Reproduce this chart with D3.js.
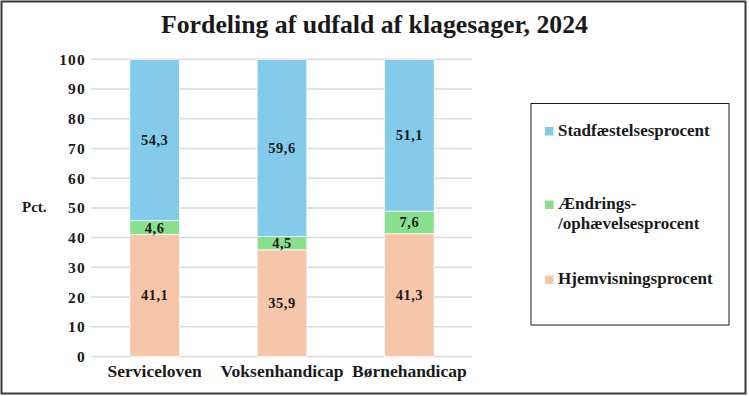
<!DOCTYPE html>
<html lang="da">
<head>
  <meta charset="utf-8" />
  <title>Fordeling af udfald af klagesager, 2024</title>
  <style>
    body {
      margin: 0;
      padding: 0;
      background: #fff;
    }
    svg text {
      font-family: "Liberation Serif", "Times New Roman", "DejaVu Serif", serif;
      font-weight: bold;
      fill: #1a1a1a;
    }
  </style>
  <script src="https://d3js.org/d3.v7.min.js"></script>
</head>
<body>
  <svg width="749" height="396"></svg>
  <script>
    // data
    const categories = ["Serviceloven", "Voksenhandicap", "Børnehandicap"];
    const seriesNames = ["Hjemvisningsprocent", "Ændrings-/ophævelsesprocent", "Stadfæstelsesprocent"];
    const hjemvisning = [41.1, 35.9, 41.3];
    const aendring = [4.6, 4.5, 7.6];
    const stadfaestelse = [54.3, 59.6, 51.1];
    const yTicks = [0, 10, 20, 30, 40, 50, 60, 70, 80, 90, 100];

    const colors = ["#f6c6ab", "#88e08c", "#84caea"];

    const svg = d3.select("svg");

    // outer frame
    svg.append("rect")
      .attr("x", 1.5).attr("y", 1.5)
      .attr("width", 744).attr("height", 392)
      .attr("fill", "#fff")
      .attr("stroke", "#3a3a3a")
      .attr("stroke-width", 2);

    // title
    svg.append("text")
      .attr("x", 374.5).attr("y", 33)
      .attr("text-anchor", "middle")
      .attr("font-size", 25)
      .attr("textLength", 427)
      .attr("lengthAdjust", "spacingAndGlyphs")
      .text("Fordeling af udfald af klagesager, 2024");

    const x = d3.scaleBand()
      .domain(categories)
      .range([91, 473])
      .paddingInner(0.61)
      .paddingOuter(0.305);

    const y = d3.scaleLinear()
      .domain([0, 100])
      .range([356.5, 59.3]);

    // gridlines
    svg.append("g")
      .selectAll("line")
      .data(yTicks)
      .join("line")
      .attr("x1", 91).attr("x2", 472)
      .attr("y1", d => y(d)).attr("y2", d => y(d))
      .attr("stroke", "#d9d9d9")
      .attr("stroke-width", 1.5);

    // y axis labels
    const yAxis = svg.append("g")
      .attr("transform", "translate(91,0)")
      .call(d3.axisLeft(y).tickValues(yTicks).tickSize(0).tickPadding(5));
    yAxis.select(".domain").remove();
    yAxis.selectAll("text")
      .attr("font-size", 15.5)
      .attr("letter-spacing", 1.2)
      .attr("font-family", null)
      .attr("fill", "#1a1a1a");

    svg.append("text")
      .attr("x", 22).attr("y", 212)
      .attr("font-size", 15)
      .text("Pct.");

    // stacked bars
    const rows = categories.map((c, i) => ({
      cat: c,
      h: hjemvisning[i],
      a: aendring[i],
      s: stadfaestelse[i]
    }));
    const stacked = d3.stack().keys(["h", "a", "s"])(rows);

    const layer = svg.append("g")
      .selectAll("g")
      .data(stacked)
      .join("g")
      .attr("fill", (d, i) => colors[i]);

    layer.selectAll("rect")
      .data(d => d)
      .join("rect")
      .attr("x", d => x(d.data.cat))
      .attr("width", x.bandwidth())
      .attr("y", d => y(d[1]))
      .attr("height", d => y(d[0]) - y(d[1]))
      .attr("stroke", "#fff")
      .attr("stroke-width", 0.75);

    // value labels
    layer.selectAll("text")
      .data(d => d)
      .join("text")
      .attr("x", d => x(d.data.cat) + x.bandwidth() / 2)
      .attr("y", d => (y(d[0]) + y(d[1])) / 2 + 5)
      .attr("text-anchor", "middle")
      .attr("font-size", 14.5)
      .attr("letter-spacing", 0.5)
      .text(d => d3.format(".1f")(d[1] - d[0]).replace(".", ","));

    // category labels
    const xAxis = svg.append("g")
      .attr("transform", "translate(0,356.5)")
      .call(d3.axisBottom(x).tickSize(0).tickPadding(8));
    xAxis.select(".domain").remove();
    xAxis.selectAll("text")
      .attr("font-size", 17.5)
      .attr("font-family", null)
      .attr("fill", "#1a1a1a");

    // legend
    const legend = svg.append("g");
    legend.append("rect")
      .attr("x", 531).attr("y", 103.5)
      .attr("width", 198).attr("height", 221.5)
      .attr("fill", "#fff")
      .attr("stroke", "#1a1a1a")
      .attr("stroke-width", 1);

    const legendItems = [
      { lines: ["Stadfæstelsesprocent"], color: colors[2], y: 135.5 },
      { lines: ["Ændrings-", "/ophævelsesprocent"], color: colors[1], y: 209 },
      { lines: ["Hjemvisningsprocent"], color: colors[0], y: 284 }
    ];

    const item = legend.selectAll("g.item")
      .data(legendItems)
      .join("g")
      .attr("class", "item");

    item.append("rect")
      .attr("x", 545).attr("y", d => d.y - 8.5)
      .attr("width", 8.5).attr("height", 8.5)
      .attr("fill", d => d.color);

    item.append("text")
      .attr("font-size", 17)
      .selectAll("tspan")
      .data(d => d.lines.map((l, i) => ({ l, i, y: d.y })))
      .join("tspan")
      .attr("x", 558)
      .attr("y", d => d.y + d.i * 19.5)
      .text(d => d.l);
  </script>
</body>
</html>
